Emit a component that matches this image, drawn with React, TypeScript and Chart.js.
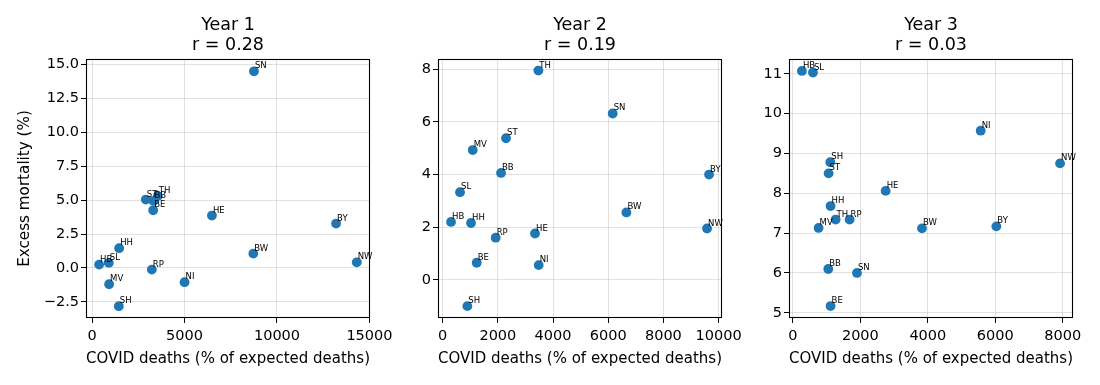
import React, { useEffect, useRef } from 'react';
import { Chart, registerables } from 'chart.js';

Chart.register(...registerables);

// ---------- data ----------
const states = ['BW', 'BY', 'BE', 'BB', 'HB', 'HH', 'HE', 'MV', 'NI', 'NW', 'RP', 'SL', 'SN', 'ST', 'SH', 'TH'];

const year1Deaths = [8718, 13195, 3303, 3321, 379, 1462, 6480, 920, 5000, 14314, 3231, 903, 8755, 2906, 1444, 3556];
const year1Excess = [1.06, 3.28, 4.26, 4.95, 0.25, 1.46, 3.87, -1.2, -1.05, 0.42, -0.12, 0.375, 14.51, 5.05, -2.82, 5.32];

const year2Deaths = [6659, 9656, 1233, 2115, 302, 1027, 3347, 1088, 3480, 9583, 1921, 628, 6163, 2296, 894, 3468];
const year2Excess = [2.56, 4.0, 0.65, 4.06, 2.2, 2.16, 1.76, 4.93, 0.56, 1.95, 1.6, 3.33, 6.32, 5.38, -1.0, 7.95];

const year3Deaths = [3827, 6032, 1117, 1048, 267, 1117, 2749, 761, 5567, 7921, 1681, 593, 1899, 1058, 1108, 1266];
const year3Excess = [7.12, 7.17, 5.17, 6.1, 11.07, 7.68, 8.06, 7.13, 9.57, 8.75, 7.34, 11.03, 6.0, 8.5, 8.78, 7.34];

const panelTitles = ['Year 1', 'Year 2', 'Year 3'];
const correlations = ['r = 0.28', 'r = 0.19', 'r = 0.03'];

const xTicks1 = [0, 5000, 10000, 15000];
const yTicks1 = [-2.5, 0, 2.5, 5, 7.5, 10, 12.5, 15];
const xTicks2 = [0, 2000, 4000, 6000, 8000, 10000];
const yTicks2 = [0, 2, 4, 6, 8];
const xTicks3 = [0, 2000, 4000, 6000, 8000];
const yTicks3 = [5, 6, 7, 8, 9, 10, 11];

const xLimits1 = [-330, 15030];
const yLimits1 = [-3.69, 15.42];
const xLimits2 = [-170, 10125];
const yLimits2 = [-1.45, 8.39];
const xLimits3 = [-116, 8304];
const yLimits3 = [4.87, 11.37];

const yDecimals = [1, 0, 0];

const xAxisLabel = 'COVID deaths (% of expected deaths)';
const yAxisLabel = 'Excess mortality (%)';

// ---------- layout / style ----------
const FONT = '"DejaVu Sans", sans-serif';
const PANEL_LEFTS = [86, 438, 789];
const PANEL_W = 284;
const AXIS_W = 86;
const PAD_R = 30;
const CANVAS_H = 385;
const TOP = 59;
const XAXIS_H = 67;
const POINT_COLOR = '#1f77b4';

const panels = [
  { deaths: year1Deaths, excess: year1Excess, xTicks: xTicks1, yTicks: yTicks1, xLim: xLimits1, yLim: yLimits1 },
  { deaths: year2Deaths, excess: year2Excess, xTicks: xTicks2, yTicks: yTicks2, xLim: xLimits2, yLim: yLimits2 },
  { deaths: year3Deaths, excess: year3Excess, xTicks: xTicks3, yTicks: yTicks3, xLim: xLimits3, yLim: yLimits3 },
];

const fmtNum = (v: number, dec: number) => v.toFixed(dec).replace('-', '\u2212');

function Panel({ index }: { index: number }) {
  const ref = useRef<HTMLCanvasElement>(null);
  useEffect(() => {
    const p = panels[index];
    const canvas = ref.current!;
    const framePlugin = {
      id: 'frame',
      afterDatasetsDraw(chart: any) {
        const { ctx, chartArea: a } = chart;
        ctx.save();
        ctx.strokeStyle = '#000';
        ctx.lineWidth = 1.1;
        ctx.strokeRect(a.left + 0.5, a.top + 0.5, a.right - a.left - 1, a.bottom - a.top - 1);
        ctx.restore();
      },
    };
    const labelPlugin = {
      id: 'pointLabels',
      afterDatasetsDraw(chart: any) {
        const { ctx } = chart;
        const meta = chart.getDatasetMeta(0);
        ctx.save();
        ctx.font = `8.5px ${FONT}`;
        ctx.fillStyle = '#000';
        ctx.textAlign = 'left';
        ctx.textBaseline = 'alphabetic';
        meta.data.forEach((pt: any, i: number) => {
          ctx.fillText(states[i], pt.x + 1, pt.y - 3);
        });
        ctx.restore();
      },
    };
    const titlePlugin = {
      id: 'panelTitle',
      afterDraw(chart: any) {
        const { ctx, chartArea: a } = chart;
        const cx = (a.left + a.right) / 2;
        ctx.save();
        ctx.font = `17.5px ${FONT}`;
        ctx.fillStyle = '#000';
        ctx.textAlign = 'center';
        ctx.textBaseline = 'alphabetic';
        ctx.fillText(panelTitles[index], cx, a.top - 29);
        ctx.fillText(correlations[index], cx, a.top - 9);
        ctx.restore();
      },
    };
    const tickFont = { family: FONT, size: 14.5 };
    const labelFont = { family: FONT, size: 15.2 };
    const chart = new Chart(canvas, {
      type: 'scatter',
      data: {
        datasets: [
          {
            data: p.deaths.map((x, i) => ({ x, y: p.excess[i] })),
            backgroundColor: POINT_COLOR,
            borderWidth: 0,
            pointRadius: 4.9,
            pointHoverRadius: 4.9,
          },
        ],
      },
      options: {
        responsive: false,
        animation: false,
        devicePixelRatio: 1,
        layout: { padding: { top: TOP, right: PAD_R, left: 0, bottom: 0 } },
        plugins: {
          legend: { display: false },
          tooltip: { enabled: false },
          title: { display: false },
        },
        scales: {
          x: {
            type: 'linear',
            min: p.xLim[0],
            max: p.xLim[1],
            afterFit: (s: any) => {
              s.height = XAXIS_H;
            },
            afterBuildTicks: (s: any) => {
              s.ticks = p.xTicks.map((v) => ({ value: v }));
            },
            ticks: {
              font: tickFont,
              color: '#000',
              padding: 5,
              autoSkip: false,
              maxRotation: 0,
              callback: (v: any) => fmtNum(Number(v), 0),
            },
            grid: {
              color: 'rgba(176,176,176,0.38)',
              tickColor: '#000',
              tickLength: 5,
              tickWidth: 1,
              lineWidth: 1,
            },
            border: { display: false },
            title: {
              display: true,
              text: xAxisLabel,
              font: labelFont,
              color: '#000',
              padding: { top: 0, bottom: 17 },
            },
          },
          y: {
            type: 'linear',
            min: p.yLim[0],
            max: p.yLim[1],
            afterFit: (s: any) => {
              s.width = AXIS_W;
            },
            afterBuildTicks: (s: any) => {
              s.ticks = p.yTicks.map((v) => ({ value: v }));
            },
            ticks: {
              font: tickFont,
              color: '#000',
              padding: 2,
              autoSkip: false,
              callback: (v: any) => fmtNum(Number(v), yDecimals[index]),
            },
            grid: {
              color: 'rgba(176,176,176,0.38)',
              tickColor: '#000',
              tickLength: 5,
              tickWidth: 1,
              lineWidth: 1,
            },
            border: { display: false },
            title: {
              display: index === 0,
              text: yAxisLabel,
              font: labelFont,
              color: '#000',
              padding: { top: 16, bottom: 0 },
            },
          },
        },
      },
      plugins: [framePlugin, labelPlugin, titlePlugin],
    } as any);
    return () => chart.destroy();
  }, [index]);

  const width = AXIS_W + PANEL_W + PAD_R;
  return (
    <canvas
      ref={ref}
      width={width}
      height={CANVAS_H}
      style={{
        position: 'absolute',
        left: PANEL_LEFTS[index] - AXIS_W,
        top: 0,
        width,
        height: CANVAS_H,
      }}
    />
  );
}

export default function App() {
  return (
    <div
      style={{
        position: 'absolute',
        left: 0,
        top: 0,
        width: 1100,
        height: 385,
        background: '#fff',
        overflow: 'hidden',
      }}
    >
      <Panel index={0} />
      <Panel index={1} />
      <Panel index={2} />
    </div>
  );
}
